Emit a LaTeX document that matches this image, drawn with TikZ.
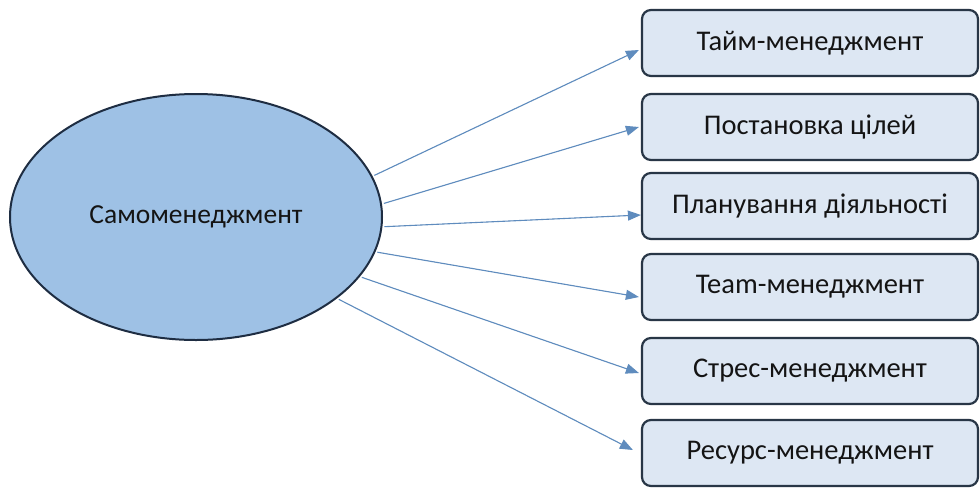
\documentclass[tikz,border=0pt]{standalone}
\usepackage{fontspec}
\setmainfont{Carlito}
\usetikzlibrary{shapes.geometric,arrows.meta,calc}
\definecolor{ellfill}{RGB}{158,193,229}
\definecolor{ellline}{RGB}{30,45,66}
\definecolor{boxfill}{RGB}{221,231,243}
\definecolor{boxline}{RGB}{40,54,70}
\definecolor{arr}{RGB}{95,140,190}
\definecolor{txt}{RGB}{20,20,20}
\begin{document}
\begin{tikzpicture}[x=1pt,y=-1pt,
  ellnode/.style={ellipse,draw=ellline,line width=2pt,fill=ellfill,minimum width=372pt,minimum height=246pt,inner sep=0pt,font=\fontsize{27.5}{32}\selectfont,text=txt},
  boxnode/.style={rectangle,rounded corners=9pt,draw=boxline,line width=2.2pt,fill=boxfill,minimum width=336pt,minimum height=66pt,inner sep=0pt,font=\fontsize{28.5}{33}\selectfont,text=txt},
  conn/.style={draw=arr,line width=1.1pt,-{Triangle[length=13pt,width=10pt]},fill=arr,shorten <=2pt}]
\useasboundingbox (0,0) rectangle (980,488);
\fill[white] (0,0) rectangle (980,488);
\node[ellnode] (ell) at (196,217) {Самоменеджмент};
\node[boxnode] (b1) at (810,43) {Тайм-менеджмент};
\node[boxnode] (b2) at (810,127) {Постановка цілей};
\node[boxnode] (b3) at (810,206) {Планування діяльності};
\node[boxnode] (b4) at (810,287) {Team-менеджмент};
\node[boxnode] (b5) at (810,371) {Стрес-менеджмент};
\node[boxnode] (b6) at (810,453) {Ресурс-менеджмент};
\draw[conn] (ell.13.5) -- ($(b1.west)+(-2,7)$);
\draw[conn] (ell.4.9) -- ($(b2.west)+(-2,0)$);
\draw[conn] (ell.-3.9) -- ($(b3.west)+(0,9)$);
\draw[conn] (ell.-11) -- ($(b4.west)+(-2,10)$);
\draw[conn] (ell.-20.6) -- ($(b5.west)+(-2,2)$);
\draw[conn] (ell.-30.6) -- ($(b6.west)+(-8,-3)$);
\end{tikzpicture}
\end{document}
